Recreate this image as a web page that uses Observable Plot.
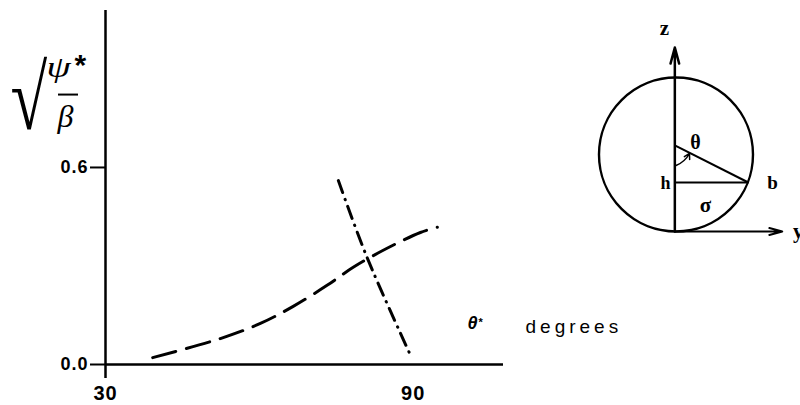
<!DOCTYPE html>
<html>
<head>
<meta charset="utf-8">
<script src="https://cdn.jsdelivr.net/npm/d3@7"></script>
<script src="https://cdn.jsdelivr.net/npm/@observablehq/plot@0.6"></script>
<style>
  html, body { margin: 0; padding: 0; background: #fff; }
  #chart { position: relative; width: 800px; height: 405px; overflow: hidden; }
  #chart svg { position: absolute; }
  .spaced text { letter-spacing: 4px; }
  .ticks text { letter-spacing: 1px; }
</style>
</head>
<body>
<div id="chart"></div>
<script>
// Contact angle θ* (degrees) against √(ψ*/β)
const thetaDashed = [39.2, 52.4, 60.2, 66.6, 73.2, 78.3, 84.9, 91.4, 94.7];
const psiDashed   = [0.021, 0.079, 0.125, 0.177, 0.241, 0.296, 0.354, 0.402, 0.418];
const thetaDashDot = [75.4, 81.0, 89.5];
const psiDashDot   = [0.560, 0.326, 0.027];
const xTicks = [30, 90];
const yTicks = [0, 0.6];

const dashed = thetaDashed.map((t, i) => ({theta: t, psi: psiDashed[i]}));
const dashDot = thetaDashDot.map((t, i) => ({theta: t, psi: psiDashDot[i]}));

const sans = "'Liberation Sans', Arial, Helvetica, sans-serif";
const serif = "'Liberation Serif', 'Times New Roman', serif";

// annotation helper: text positioned in pixels from the top-left of the frame
const note = (txt, dx, dy, o = {}) =>
  Plot.text([txt], {text: d => d, frameAnchor: "top-left", dx, dy, textAnchor: "start",
    lineAnchor: "bottom", fill: "black", ...o});

const main = Plot.plot({
  width: 800,
  height: 405,
  marginLeft: 105,
  marginRight: 297,
  marginTop: 10,
  marginBottom: 41,
  x: {domain: [30, 107.6]},
  y: {domain: [0, 1.078]},
  style: {background: "white", color: "black", fontFamily: sans},
  marks: [
    // axes
    Plot.ruleX([30], {y1: -0.043, y2: 1.078, stroke: "black", strokeWidth: 2.5}),
    Plot.ruleY([0], {x1: 30, x2: 107.6, stroke: "black", strokeWidth: 2.5}),
    Plot.axisY(yTicks, {tickSize: 15, tickPadding: 2, strokeWidth: 2, className: "ticks",
      tickFormat: d => d.toFixed(1), fontSize: 18, fontWeight: "bold", label: null}),
    Plot.axisX(xTicks, {tickSize: 0, tickPadding: 21, fontSize: 20, className: "ticks",
      fontWeight: "bold", label: null}),

    // curves
    Plot.line(dashed, {x: "theta", y: "psi", curve: "catmull-rom", stroke: "black",
      strokeWidth: 3, strokeDasharray: "24,11", strokeLinecap: "round"}),
    Plot.line(dashDot, {x: "theta", y: "psi", curve: "catmull-rom", stroke: "black",
      strokeWidth: 3, strokeDasharray: "13,7,0.5,7", strokeLinecap: "round"}),

    // y-axis label √(ψ*/β)
    note("√", -95, 118, {fontFamily: serif, fontSize: 76, className: "radical"}),
    note("ψ", -59, 66, {fontFamily: serif, fontStyle: "italic", fontSize: 30, className: "psi"}),
    note("*", -31, 64, {fontFamily: sans, fontWeight: "bold", fontSize: 30}),
    Plot.ruleY([0.822], {x1: 20.84, x2: 24.74, stroke: "black", strokeWidth: 2}),
    note("β", -48, 116, {fontFamily: serif, fontStyle: "italic", fontSize: 32}),

    // x-axis label
    note("θ", 362, 318, {fontFamily: sans, fontStyle: "italic", fontWeight: "bold", fontSize: 18}),
    note("*", 373, 315, {fontFamily: sans, fontWeight: "bold", fontSize: 11}),
    note("degrees", 420, 322, {fontFamily: sans, fontSize: 19, className: "spaced"})
  ]
});

// stretch a glyph about its baseline origin
function stretch(svg, selector, sx, sy) {
  svg.querySelectorAll(selector).forEach(t => {
    const x = +t.getAttribute("x") || 0, y = +t.getAttribute("y") || 0;
    t.removeAttribute("x");
    t.removeAttribute("y");
    const tr = t.getAttribute("transform") || "";
    t.setAttribute("transform", `${tr} translate(${x},${y}) scale(${sx},${sy})`);
  });
}
stretch(main, ".radical text", 0.88, 1.2);
stretch(main, ".psi text", 1.3, 1);

// Sketch of the drop: unit sphere, z and y axes, contact height h and radius b
const diagram = Plot.plot({
  width: 230,
  height: 260,
  margin: 0,
  x: {domain: [-1.370, 1.617], axis: null},
  y: {domain: [-1.377, 2.0], axis: null},
  style: {background: "transparent", color: "black"},
  marks: [
    Plot.dot([[0, 0]], {r: 77, stroke: "black", strokeWidth: 2.4, fill: "none"}),
    Plot.arrow([[0]], {x1: -0.015, y1: -1, x2: -0.015, y2: 1.39, stroke: "black",
      strokeWidth: 2.5, headLength: 10, headAngle: 30}),
    Plot.arrow([[0]], {x1: -0.015, y1: -1, x2: 1.38, y2: -1, stroke: "black",
      strokeWidth: 2, headLength: 10, headAngle: 30}),
    Plot.link([[0]], {x1: -0.015, y1: -0.364, x2: 0.94, y2: -0.364, stroke: "black", strokeWidth: 2}),
    Plot.link([[0]], {x1: -0.015, y1: 0.117, x2: 0.94, y2: -0.364, stroke: "black", strokeWidth: 2}),
    Plot.arrow([[0]], {x1: 0, y1: -0.143, x2: 0.175, y2: 0.013, bend: -20, stroke: "black",
      strokeWidth: 1.5, headLength: 6}),
    Plot.text(["z"], {x: -0.15, y: 1.64, text: d => d, fontFamily: serif, fontWeight: "bold", fontSize: 21}),
    Plot.text(["θ"], {x: 0.253, y: 0.15, text: d => d, fontFamily: serif, fontWeight: "bold", fontSize: 20}),
    Plot.text(["h"], {x: -0.136, y: -0.377, text: d => d, fontFamily: serif, fontWeight: "bold", fontSize: 18}),
    Plot.text(["b"], {x: 1.253, y: -0.364, text: d => d, fontFamily: serif, fontWeight: "bold", fontSize: 19}),
    Plot.text(["σ"], {x: 0.383, y: -0.662, text: d => d, fontFamily: serif, fontWeight: "bold", fontSize: 21}),
    Plot.text(["y"], {x: 1.52, y: -1.0, text: d => d, textAnchor: "start", fontFamily: serif,
      fontWeight: "bold", fontSize: 21})
  ]
});

const holder = document.getElementById("chart");
main.style.left = "0px";
main.style.top = "0px";
diagram.style.left = "570px";
diagram.style.top = "0px";
holder.append(main, diagram);
</script>
</body>
</html>
